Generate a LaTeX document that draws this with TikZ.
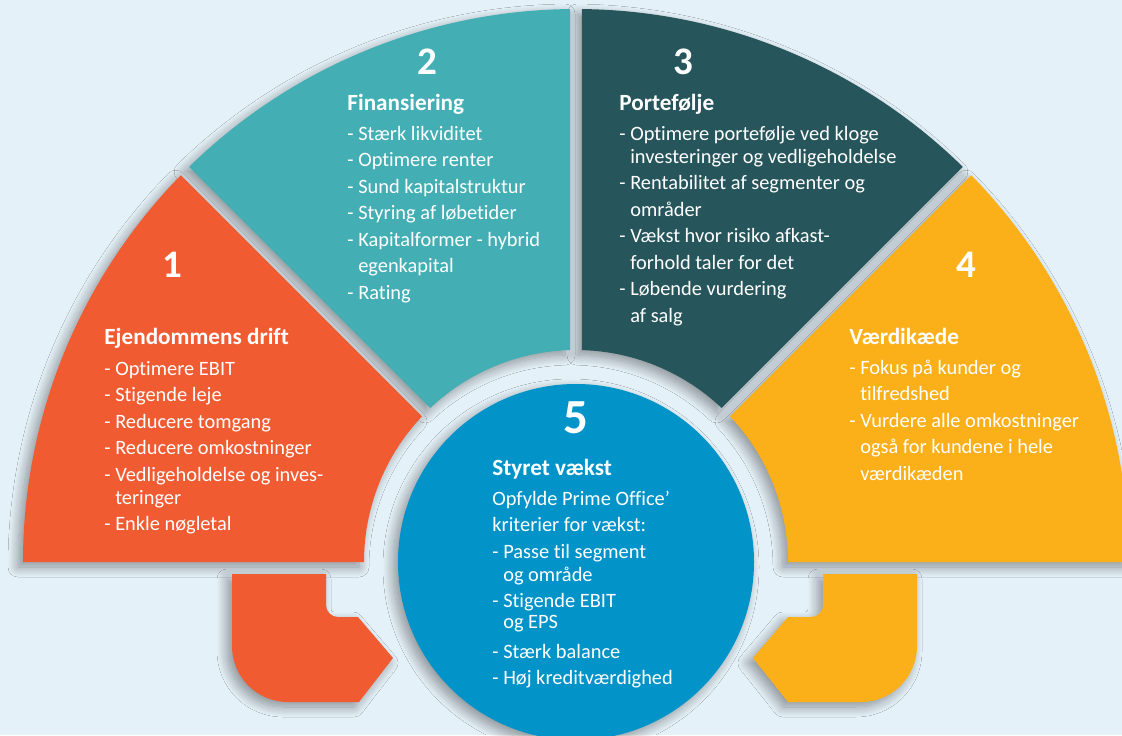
\documentclass[tikz,border=0pt]{standalone}
\usepackage{fontspec}
\setmainfont{Carlito}[Ligatures=NoCommon]
\usetikzlibrary{shadows.blur}
\definecolor{bgblue}{RGB}{229,241,248}
\definecolor{driftred}{RGB}{241,91,50}
\definecolor{finteal}{RGB}{67,175,180}
\definecolor{portdark}{RGB}{38,86,91}
\definecolor{vaerdiyellow}{RGB}{251,176,26}
\definecolor{vaekstblue}{RGB}{2,147,201}
\newcommand{\hang}{\hphantom{- }}
\newcommand{\blocktitle}[1]{{\fontsize{11.6}{13.25}\selectfont\bfseries #1}}
\begin{document}
\begin{tikzpicture}[x=0.5pt, y=0.5pt, part/.style={blur shadow={shadow xshift=-2.5pt, shadow yshift=-2.5pt, shadow blur radius=5pt, shadow blur steps=14, shadow opacity=40}}, num/.style={text=white, inner sep=0pt, font=\fontsize{19.5}{19.5}\selectfont\bfseries}, box text/.style={text=white, align=left, anchor=north west, inner sep=0pt, font=\fontsize{10.2}{13.25}\selectfont}]
\fill[bgblue] (0,0) rectangle (1122,735);
\useasboundingbox (0,0) rectangle (1122,735);
\coordinate (c) at (576,173);
\begin{scope}[shift={(c)}]
\fill[portdark, part] (89.38:553) arc[start angle=89.38, end angle=45.62, radius=553] -- (46.62:212) arc[start angle=46.62, end angle=88.38, radius=212] -- cycle;
\fill[finteal, part] (134.38:553) arc[start angle=134.38, end angle=90.62, radius=553] -- (91.62:212) arc[start angle=91.62, end angle=133.38, radius=212] -- cycle;
\fill[vaerdiyellow, part] (44.38:553) arc[start angle=44.38, end angle=0, radius=553] -- (0:212) arc[start angle=0, end angle=43.38, radius=212] -- cycle;
\fill[driftred, part] (180:553) arc[start angle=180, end angle=135.62, radius=553] -- (136.62:212) arc[start angle=136.62, end angle=180, radius=212] -- cycle;
\end{scope}
\fill[driftred, part] (232,161) -- (326,161) -- (326,130) arc[start angle=180, end angle=270, radius=12] -- (358,118) -- (393,77) -- (359,33) -- (288,33) arc[start angle=270, end angle=180, radius=56] -- cycle;
\fill[vaerdiyellow, part] (917,161) -- (823,161) -- (823,130) arc[start angle=0, end angle=-90, radius=12] -- (788,118) -- (753,77) -- (788,33) -- (861,33) arc[start angle=-90, end angle=0, radius=56] -- cycle;
\fill[vaekstblue, part] (c) circle[radius=178];

\node[num] (num1) at (172,470) {1};
\node[num] (num2) at (427,673) {2};
\node[num] (num3) at (683,673) {3};
\node[num] (num4) at (966,470) {4};
\node[num, font=\fontsize{24.5}{24.5}\selectfont\bfseries] (num5) at (576,317) {5};

\node[box text] (drift) at (104,409.5) {\strut\blocktitle{Ejendommens drift}\\[2.25pt]
- Optimere EBIT\\
- Stigende leje\\
- Reducere tomgang\\
- Reducere omkostninger\\
- Vedligeholdelse og inves-\\[-1.75pt]
\hang teringer\\
- Enkle nøgletal};
\node[box text] (finans) at (347,643.5) {\strut\blocktitle{Finansiering}\\[1.75pt]
- Stærk likviditet\\
- Optimere renter\\
- Sund kapitalstruktur\\
- Styring af løbetider\\
- Kapitalformer - hybrid\\
\hang egenkapital\\
- Rating};
\node[box text] (portef) at (619,643.5) {\strut\blocktitle{Portefølje}\\[1.75pt]
- Optimere portefølje ved kloge\\[-1.75pt]
\hang investeringer og vedligeholdelse\\
- Rentabilitet af segmenter og\\
\hang områder\\
- Vækst hvor risiko afkast-\\
\hang forhold taler for det\\
- Løbende vurdering\\
\hang af salg};
\node[box text] (vaerdi) at (849,409.5) {\strut\blocktitle{Værdikæde}\\[1.75pt]
- Fokus på kunder og\\
\hang tilfredshed\\
- Vurdere alle omkostninger\\
\hang også for kundene i hele\\
\hang værdikæden};
\node[box text] (vaekst) at (492,278.5) {\strut\blocktitle{Styret vækst}\\[1.75pt]
Opfylde Prime Office'\\
kriterier for vækst:\\
- Passe til segment\\[-1.75pt]
\hang og område\\
- Stigende EBIT\\[-2.75pt]
\hang og EPS\\[1.5pt]
- Stærk balance\\
- Høj kreditværdighed};
\end{tikzpicture}
\end{document}
